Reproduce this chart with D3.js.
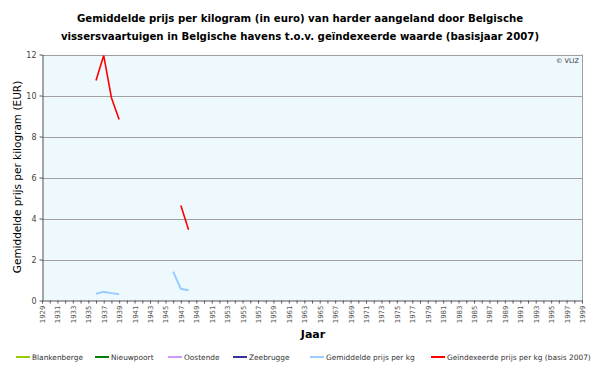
<!DOCTYPE html>
<html><head><meta charset="utf-8">
<script src="https://cdn.jsdelivr.net/npm/d3@7/dist/d3.min.js"></script>
<style>
body{margin:0;background:#fff;}
svg{display:block;}
text{font-family:"DejaVu Sans",Verdana,sans-serif;}
</style></head>
<body><svg id="c" width="600" height="368"></svg>
<script>
const titleLines = ["Gemiddelde prijs per kilogram (in euro) van harder aangeland door Belgische",
  "vissersvaartuigen in Belgische havens t.o.v. geïndexeerde waarde (basisjaar 2007)"];
const yAxisTitle = "Gemiddelde prijs per kilogram (EUR)";
const xAxisTitle = "Jaar";
const years = d3.range(1929, 2000);
const yTicks = [0, 2, 4, 6, 8, 10, 12];
const seriesNames = ["Blankenberge", "Nieuwpoort", "Oostende", "Zeebrugge", "Gemiddelde prijs per kg", "Geïndexeerde prijs per kg (basis 2007)"];
const seriesColors = ["#99cc00", "#008000", "#cc99ff", "#333399", "#99ccff", "#ff0000"];
// values keyed by year; other years have no data
const avgYears = [1936, 1937, 1938, 1939, 1946, 1947, 1948];
const avgValues = [0.33, 0.42, 0.36, 0.30, 1.41, 0.57, 0.50];
const idxYears = [1936, 1937, 1938, 1939, 1947, 1948];
const idxValues = [10.73, 11.95, 9.89, 8.83, 4.63, 3.45];

const svg = d3.select("#c");
const L = 42, R = 582, T = 54.5, B = 300.5;
const x = d3.scalePoint().domain(years).range([L, R]);
const y = d3.scaleLinear().domain([0, 12]).range([B, T]);

// background
svg.append("rect").attr("x", L).attr("y", T).attr("width", R - L).attr("height", B - T).attr("fill", "#eef9fd");

// gridlines
svg.append("g").selectAll("line").data(yTicks.filter(d => d > 0)).join("line")
  .attr("x1", L).attr("x2", R).attr("y1", d => Math.round(y(d)) + 0.5).attr("y2", d => Math.round(y(d)) + 0.5)
  .attr("stroke", "#a0a0a0").attr("stroke-width", 1);
svg.append("line").attr("x1", R + 0.5).attr("x2", R + 0.5).attr("y1", T).attr("y2", B).attr("stroke", "#a0a0a0");

// y axis
const ya = svg.append("g").attr("transform", `translate(${L + 0.5},0)`)
  .call(d3.axisLeft(y).tickValues(yTicks).tickSize(3).tickSizeOuter(0).tickFormat(d3.format("d")));
ya.select(".domain").attr("stroke", "#555");
ya.selectAll(".tick line").attr("stroke", "#555");
ya.selectAll(".tick text").attr("font-size", 8).attr("fill", "#444").attr("font-family", "DejaVu Sans");

// x axis
const xa = svg.append("g").attr("transform", `translate(0,${B})`)
  .call(d3.axisBottom(x).tickSize(3).tickSizeOuter(0).tickFormat(d => (d % 2 === 1) ? d : ""));
xa.select(".domain").attr("stroke", "#555");
xa.selectAll(".tick line").attr("stroke", "#555");
xa.selectAll(".tick text").attr("font-size", 7).attr("fill", "#555").attr("font-family", "DejaVu Sans")
  .attr("transform", "rotate(-90)").attr("text-anchor", "end").attr("x", -5).attr("y", 0).attr("dy", "0.35em");

// lines
const line = d3.line().defined(d => d.v != null).x(d => x(d.yr)).y(d => y(d.v));
function seriesData(ys, vs) { return years.map(yr => { const i = ys.indexOf(yr); return { yr, v: i >= 0 ? vs[i] : null }; }); }
svg.append("path").datum(seriesData(avgYears, avgValues)).attr("d", line).attr("fill", "none").attr("stroke", seriesColors[4]).attr("stroke-width", 2);
svg.append("path").datum(seriesData(idxYears, idxValues)).attr("d", line).attr("fill", "none").attr("stroke", seriesColors[5]).attr("stroke-width", 1.6);

// titles
svg.append("g").selectAll("text").data(titleLines).join("text")
  .attr("x", 300).attr("y", (d, i) => 22 + i * 18).attr("text-anchor", "middle")
  .attr("font-size", 10.2).attr("font-weight", "bold").attr("fill", "#000").text(d => d);
svg.append("text").attr("transform", "translate(21,177) rotate(-90)").attr("text-anchor", "middle")
  .attr("font-size", 10.5).attr("fill", "#000").text(yAxisTitle);
svg.append("text").attr("x", 313).attr("y", 338).attr("text-anchor", "middle")
  .attr("font-size", 11).attr("font-weight", "bold").attr("fill", "#000").text(xAxisTitle);
svg.append("text").attr("x", 579).attr("y", 63).attr("text-anchor", "end")
  .attr("font-size", 6.5).attr("fill", "#333").text("© VLIZ");

// legend
const legX = [16, 95, 168, 233, 310, 431];
const lg = svg.append("g").selectAll("g").data(seriesNames).join("g")
  .attr("transform", (d, i) => `translate(${legX[i]},357)`);
lg.append("line").attr("x1", 0).attr("x2", 14).attr("y1", 0).attr("y2", 0).attr("stroke", (d, i) => seriesColors[i]).attr("stroke-width", 2);
lg.append("text").attr("x", 16).attr("y", 0).attr("dy", "0.35em").attr("font-size", 7.4)
  .attr("font-family", "Liberation Sans, Arial, sans-serif").attr("fill", "#333").text(d => d);
</script></body></html>
